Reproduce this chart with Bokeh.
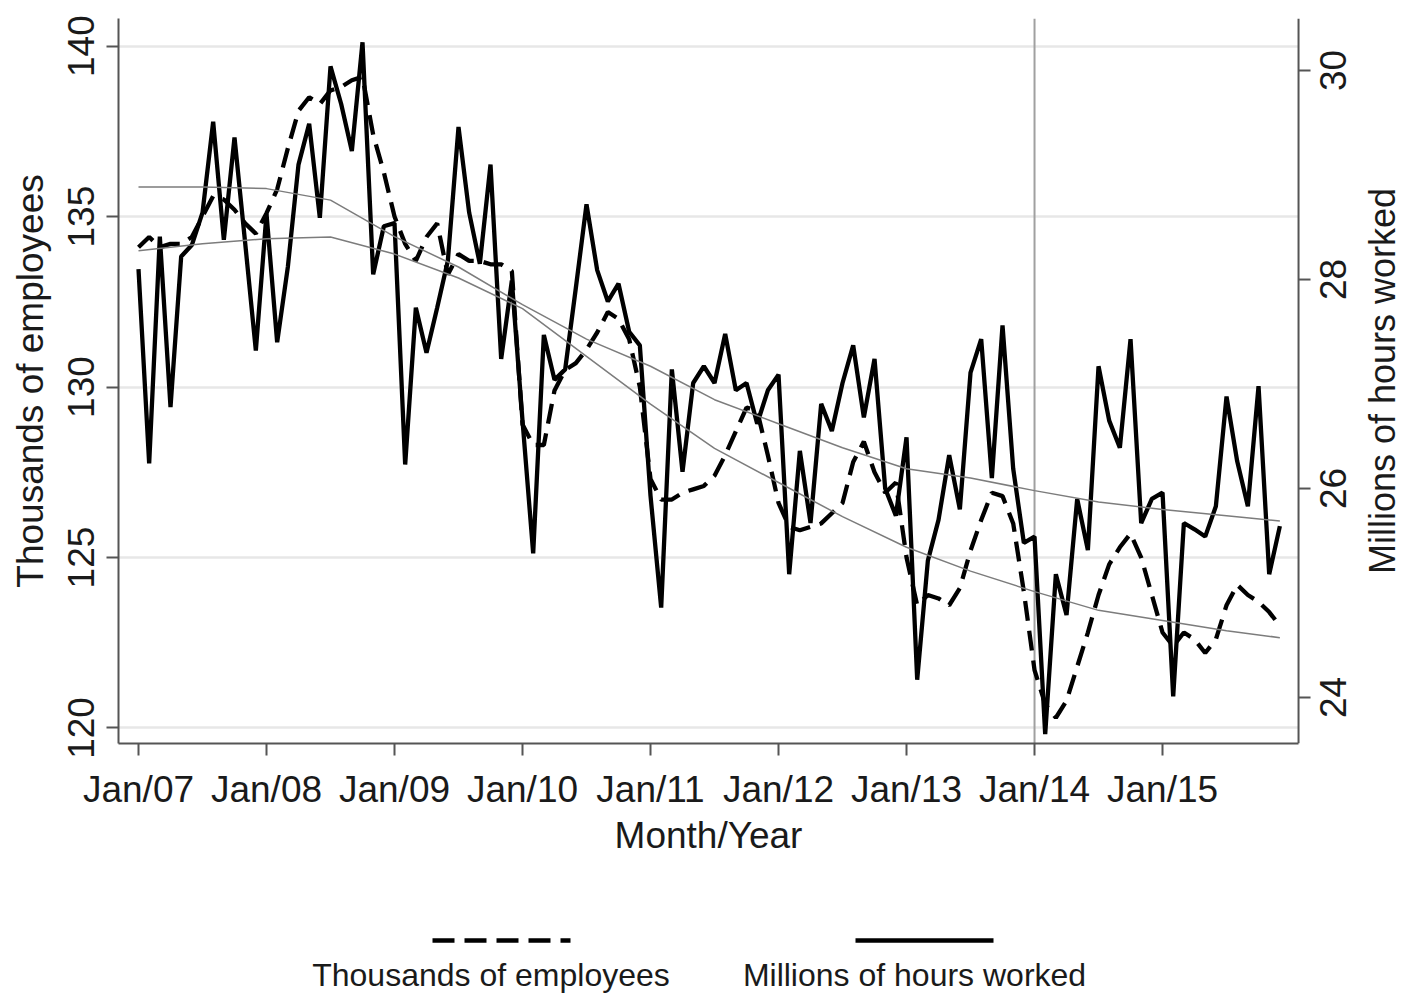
import math
from bokeh.plotting import figure
from bokeh.models import Range1d, FixedTicker, Span
from bokeh.layouts import column
from bokeh.embed import file_html
from bokeh.resources import INLINE
from bokeh.core.properties import value

# ---------------- data ----------------
tick_labels = ["Jan/07", "Jan/08", "Jan/09", "Jan/10", "Jan/11",
               "Jan/12", "Jan/13", "Jan/14", "Jan/15"]
tick_months = [0, 12, 24, 36, 48, 60, 72, 84, 96]
left_ticks = [120, 125, 130, 135, 140]
right_ticks = [24, 26, 28, 30]
right_tick_labels = ["24", "26", "28", "30"]

# Thousands of employees (dashed, left axis), monthly Jan/07 .. Dec/15
employees = [
    134.1, 134.4, 134.1, 134.2, 134.2, 134.4, 135.0, 135.6, 135.5, 135.2, 134.8, 134.5,
    135.1, 135.8, 137.0, 138.1, 138.5, 138.3, 138.7, 138.8, 139.0, 139.1, 137.4, 136.3,
    135.0, 134.2, 133.7, 134.4, 134.8, 133.3, 133.9, 133.7, 133.7, 133.6, 133.6, 133.4,
    128.9, 128.3, 128.3, 129.9, 130.5, 130.7, 131.1, 131.6, 132.2, 132.0, 131.4, 130.0,
    127.3, 126.7, 126.7, 126.9, 127.0, 127.1, 127.4, 128.0, 128.7, 129.4, 129.3, 128.0,
    126.6, 125.9, 125.8, 125.9, 126.0, 126.3, 126.6, 127.8, 128.4, 127.5, 126.9, 127.2,
    125.0, 123.6, 123.9, 123.8, 123.6, 124.1, 125.2, 126.1, 126.9, 126.8, 126.0, 124.0,
    121.7, 120.7, 120.3, 120.8, 121.8, 122.8, 123.9, 124.8, 125.3, 125.7, 125.0, 123.9,
    122.8, 122.4, 122.8, 122.6, 122.2, 122.6, 123.6, 124.2, 123.9, 123.7, 123.4, 123.0,
]

# Millions of hours worked (solid, right axis)
hours = [
    28.10, 26.24, 28.41, 26.78, 28.22, 28.33, 28.64, 29.51, 28.38, 29.36, 28.35, 27.32,
    28.63, 27.40, 28.12, 29.10, 29.49, 28.59, 30.04, 29.68, 29.23, 30.27, 28.05, 28.51,
    28.54, 26.23, 27.73, 27.30, 27.73, 28.18, 29.46, 28.64, 28.15, 29.10, 27.24, 27.99,
    26.65, 25.38, 27.47, 27.04, 27.14, 27.92, 28.72, 28.09, 27.79, 27.96, 27.50, 27.37,
    25.93, 24.86, 27.14, 26.16, 27.01, 27.17, 27.01, 27.48, 26.94, 27.01, 26.62, 26.94,
    27.09, 25.18, 26.36, 25.67, 26.81, 26.55, 27.01, 27.37, 26.68, 27.24, 26.00, 25.74,
    26.49, 24.17, 25.31, 25.70, 26.32, 25.80, 27.11, 27.43, 26.10, 27.56, 26.19, 25.48,
    25.54, 23.65, 25.18, 24.79, 25.90, 25.41, 27.17, 26.65, 26.39, 27.43, 25.67, 25.90,
    25.96, 24.01, 25.67, 25.61, 25.54, 25.83, 26.88, 26.26, 25.83, 26.98, 25.18, 25.64,
]
months = list(range(len(hours)))

# smooth trend curves, read every 6 months
trend_months = [0, 6, 12, 18, 24, 30, 36, 42, 48, 54, 60, 66, 72, 78, 84, 90, 96, 102, 107]
hours_trend = [28.885, 28.885, 28.87, 28.76, 28.41, 28.12, 27.76, 27.43, 27.17, 26.85,
               26.62, 26.39, 26.19, 26.10, 25.98, 25.87, 25.80, 25.74, 25.69]
employees_trend = [134.0, 134.2, 134.35, 134.4, 133.9, 133.2, 132.3, 130.9, 129.5, 128.2,
                   127.2, 126.2, 125.3, 124.6, 124.0, 123.45, 123.15, 122.85, 122.65]

event_month = 84  # Jan/14
series_names = ["Thousands of employees", "Millions of hours worked"]
x_title = "Month/Year"

# ---------------- geometry / styling ----------------
FONT = "Liberation Sans"
TXT = "#1a1a1a"
AX = "#555555"
FS = "37px"
X_MIN, X_END = -1.875, 108.75          # month span of the plot region
X_MAX = 118.59                          # includes the right-hand margin
Y_L = (119.545, 140.81)                 # left axis range
Y_R = (23.56, 30.498)                   # right axis range
PX_PER_MONTH = 10.667

p = figure(width=1403, height=812, output_backend="svg", toolbar_location=None,
           x_range=Range1d(X_MIN, X_MAX), y_range=Range1d(*Y_L),
           min_border_left=118, min_border_right=0, min_border_top=18,
           min_border_bottom=69)
p.extra_y_ranges = {"hours": Range1d(*Y_R)}
p.outline_line_color = None
p.background_fill_color = "white"
p.border_fill_color = "white"
p.xgrid.visible = False
p.ygrid.ticker = FixedTicker(ticks=left_ticks)
p.ygrid.grid_line_color = "#e7e7e7"
p.ygrid.grid_line_width = 2.5

xaxis = p.below[0]
left_axis = p.left[0]
xaxis.ticker = FixedTicker(ticks=tick_months)
xaxis.major_label_overrides = {m: lab for m, lab in zip(tick_months, tick_labels)}
xaxis.bounds = (X_MIN, X_END)
left_axis.ticker = FixedTicker(ticks=left_ticks)
left_axis.axis_label = series_names[0]

for ax in (xaxis, left_axis):
    ax.axis_line_color = AX
    ax.axis_line_width = 2
    ax.major_tick_line_color = AX
    ax.major_tick_line_width = 2
    ax.major_tick_in = 0
    ax.major_tick_out = 12
    ax.minor_tick_line_color = None
    ax.major_label_text_font = FONT
    ax.major_label_text_font_size = FS
    ax.major_label_text_color = TXT
    ax.axis_label_text_font = FONT
    ax.axis_label_text_font_size = FS
    ax.axis_label_text_font_style = "normal"
    ax.axis_label_text_color = TXT

xaxis.major_label_standoff = 13
left_axis.major_label_standoff = 12
left_axis.major_label_orientation = "vertical"
left_axis.axis_label_standoff = 15

# blank the right-hand margin (grid lines stop at the plot region)
p.quad(left=[X_END], right=[X_MAX], bottom=[Y_L[0]], top=[Y_L[1]],
       fill_color="white", line_color=None)

p.add_layout(Span(location=event_month, dimension="height", line_color="#a0a0a0",
                  line_width=2, level="underlay"))

p.line(months, employees, line_color="black", line_width=4.3, line_dash="20 10")
p.line(months, hours, y_range_name="hours", line_color="black", line_width=4.3)
p.line(trend_months, hours_trend, y_range_name="hours", line_color="#7c7c7c",
       line_width=1.5)
p.line(trend_months, employees_trend, line_color="#7c7c7c", line_width=1.5)

# right axis (hours): line, ticks and labels reading bottom-to-top
tick_len = 12 / PX_PER_MONTH
p.segment(x0=[X_END], y0=[Y_R[0]], x1=[X_END], y1=[Y_R[1]], y_range_name="hours",
          line_color=AX, line_width=2)
p.segment(x0=[X_END] * len(right_ticks), y0=right_ticks,
          x1=[X_END + tick_len] * len(right_ticks), y1=right_ticks,
          y_range_name="hours", line_color=AX, line_width=2)
p.text(x=[X_END + 34 / PX_PER_MONTH] * len(right_ticks), y=right_ticks,
       text=right_tick_labels, y_range_name="hours", angle=math.pi / 2,
       text_align="center", text_baseline="middle", text_font=value(FONT),
       text_font_size=FS, text_color=TXT)
p.text(x=[X_END + 84 / PX_PER_MONTH], y=[(Y_R[0] + Y_R[1]) / 2],
       text=[series_names[1]], y_range_name="hours", angle=math.pi / 2,
       text_align="center", text_baseline="middle", text_font=value(FONT),
       text_font_size="36px", text_color=TXT)

# ---------------- x title and legend (key above label, as in the original) ----------------
# this panel's frame is aligned with the main plot's frame: x is page pixels 118..1403,
# y counts pixels up from the bottom of the page (996)
leg = figure(width=1403, height=184, output_backend="svg", toolbar_location=None,
             x_range=Range1d(118, 1403), y_range=Range1d(0, 184),
             x_axis_location=None, y_axis_location=None, min_border=0)
leg.grid.visible = False
leg.outline_line_color = None
leg.text(x=[708], y=[161], text=[x_title], text_align="center", text_baseline="middle",
         text_font=value(FONT), text_font_size=FS, text_color=TXT)
leg.line([432, 570], [56, 56], line_color="black", line_width=4.5, line_dash="22 10")
leg.line([855, 993], [56, 56], line_color="black", line_width=4.5)
leg.text(x=[490.5, 914], y=[22, 22], text=series_names,
         text_align="center", text_baseline="middle",
         text_font=value(FONT), text_font_size="32px", text_color=TXT)

layout = column(p, leg, spacing=0)
open("out.html", "w").write(file_html(layout, INLINE))
